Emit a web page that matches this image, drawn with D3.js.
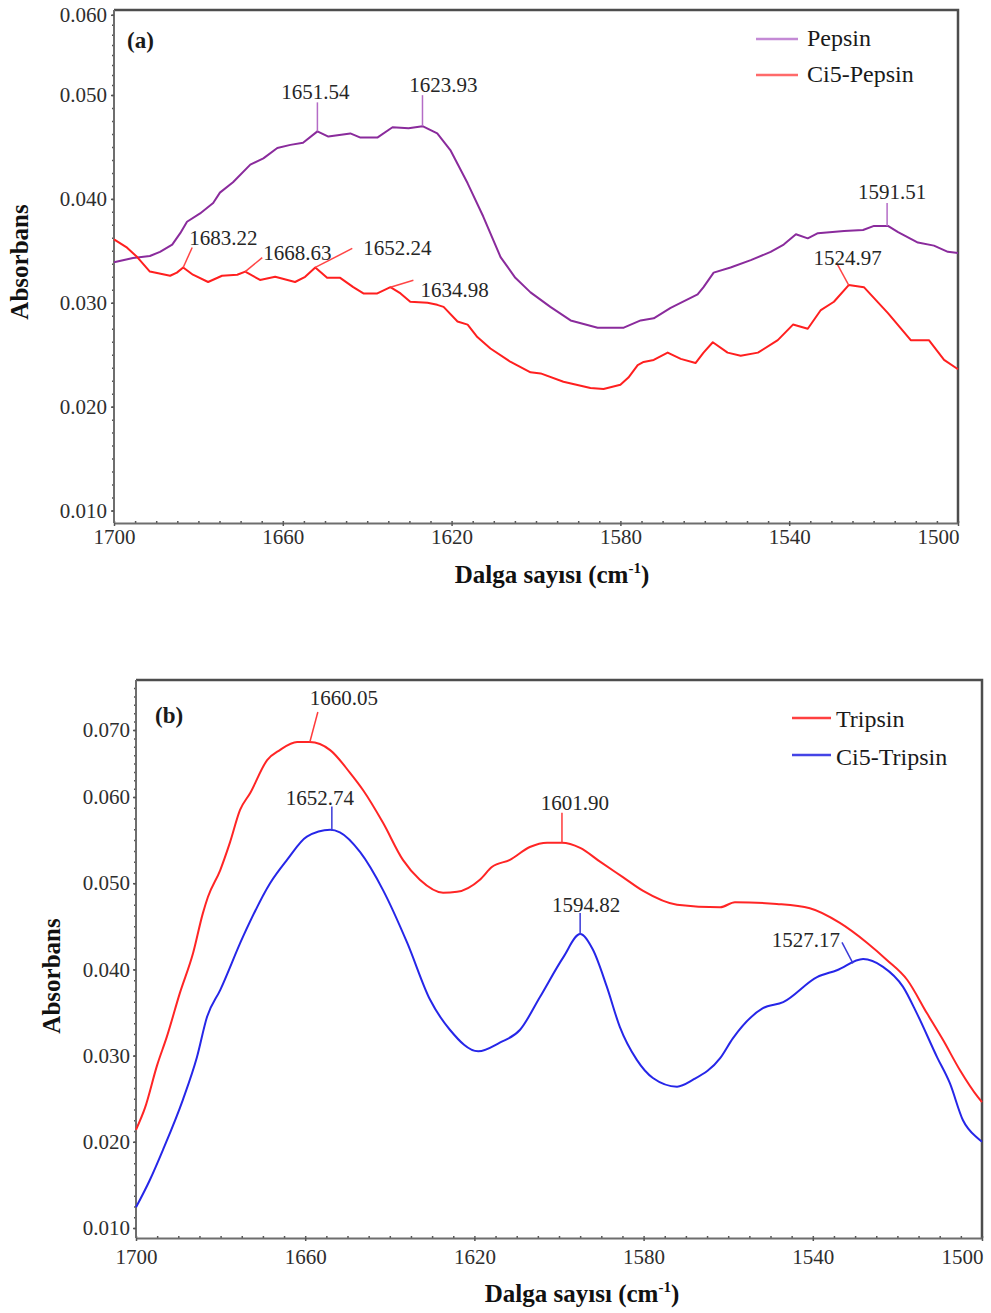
<!DOCTYPE html>
<html><head><meta charset="utf-8">
<script src="https://cdn.jsdelivr.net/npm/d3@7/dist/d3.min.js"></script>
<style>body{margin:0;background:#fff}svg{display:block}</style>
</head><body>
<svg id="chart" width="991" height="1313"></svg>
<script>
// ---------- DATA ----------
const xTicks = [1700, 1660, 1620, 1580, 1540, 1500];
const yTicksA = [0.010, 0.020, 0.030, 0.040, 0.050, 0.060];
const yTicksB = [0.010, 0.020, 0.030, 0.040, 0.050, 0.060, 0.070];

const seriesNamesA = ["Pepsin", "Ci5-Pepsin"];
const seriesNamesB = ["Tripsin", "Ci5-Tripsin"];

const pepsinWave = [1700,1695.5,1691.5,1689.1,1686.2,1684.3,1682.7,1679.6,1676.5,1674.9,1671.8,1667.7,1664.6,1661.3,1658.2,1655.2,1651.8,1649.2,1644.0,1641.6,1637.6,1634.0,1630.2,1626.9,1623.4,1620.3,1616.2,1612.5,1608.4,1604.9,1601.3,1596.6,1591.8,1585.4,1579.2,1575.2,1572.1,1568.1,1561.7,1560.3,1557.9,1553.9,1549.1,1544.4,1541.3,1538.4,1535.6,1533.2,1527.0,1522.5,1519.9,1516.6,1514.2,1509.5,1505.7,1502.4,1500];
const pepsinAbs = [0.0339,0.0343,0.0345,0.0349,0.0356,0.0367,0.0378,0.0386,0.0396,0.0406,0.0416,0.0433,0.0439,0.0449,0.0452,0.0454,0.0465,0.0460,0.0463,0.0459,0.0459,0.0469,0.0468,0.0470,0.0463,0.0447,0.0415,0.0383,0.0344,0.0324,0.0310,0.0296,0.0283,0.0276,0.0276,0.0283,0.0285,0.0295,0.0308,0.0315,0.0329,0.0334,0.0341,0.0349,0.0356,0.0366,0.0362,0.0367,0.0369,0.0370,0.0374,0.0374,0.0368,0.0358,0.0355,0.0349,0.0348];

const ci5PepsinWave = [1700,1696.9,1694.5,1691.5,1686.7,1685.1,1683.6,1681.3,1677.7,1674.4,1670.8,1668.9,1665.4,1661.8,1657.1,1654.7,1652.3,1649.5,1646.4,1643.3,1640.9,1637.6,1634.5,1632.1,1629.8,1625.7,1623.4,1621.9,1618.6,1616.2,1613.9,1610.8,1606.0,1601.3,1598.9,1593.5,1587.1,1584.0,1580.0,1578.1,1575.9,1574.5,1572.1,1568.8,1565.7,1562.2,1560.3,1558.1,1554.6,1551.5,1547.4,1542.7,1539.1,1535.6,1532.5,1529.4,1525.9,1522.3,1516.6,1511.2,1506.9,1503.3,1500];
const ci5PepsinAbs = [0.0361,0.0353,0.0344,0.0330,0.0326,0.0329,0.0334,0.0327,0.0320,0.0326,0.0327,0.0330,0.0322,0.0325,0.0320,0.0325,0.0334,0.0324,0.0324,0.0315,0.0309,0.0309,0.0315,0.0309,0.0301,0.0300,0.0298,0.0296,0.0282,0.0279,0.0267,0.0256,0.0243,0.0233,0.0232,0.0224,0.0218,0.0217,0.0221,0.0228,0.0240,0.0243,0.0245,0.0252,0.0246,0.0242,0.0252,0.0262,0.0252,0.0249,0.0252,0.0264,0.0279,0.0275,0.0293,0.0301,0.0317,0.0315,0.0290,0.0264,0.0264,0.0245,0.0236];

const tripsinWave = [1700,1697.9,1695.0,1692.7,1689.6,1686.5,1684.2,1683.0,1680.1,1677.8,1675.4,1673.0,1669.0,1666.0,1661.9,1658.9,1654.1,1649.4,1646.3,1641.6,1636.9,1632.9,1627.4,1624.1,1618.7,1615.8,1611.6,1606.9,1602.8,1599.3,1595.0,1590.3,1584.9,1580.1,1572.1,1561.9,1558.4,1548.5,1540.7,1533.6,1527.2,1522.5,1517.7,1513.0,1509.2,1505.2,1501.0,1500];
const tripsinAbs = [0.0214,0.0239,0.0289,0.0322,0.0373,0.0419,0.0465,0.0484,0.0515,0.0547,0.0585,0.0606,0.0655,0.0670,0.0682,0.0682,0.0670,0.0636,0.0610,0.0570,0.0527,0.0504,0.0489,0.0490,0.0504,0.0519,0.0527,0.0542,0.0547,0.0547,0.0541,0.0525,0.0507,0.0491,0.0475,0.0472,0.0478,0.0476,0.0471,0.0454,0.0431,0.0411,0.0388,0.0349,0.0318,0.0283,0.0252,0.0246];

const ci5TripsinWave = [1700,1696.7,1693.6,1688.9,1685.6,1683.2,1680.1,1674.7,1668.3,1664.3,1659.6,1654.1,1651.8,1647.0,1641.6,1635.9,1630.5,1625.8,1619.1,1614.0,1609.2,1604.5,1599.0,1595.0,1592.0,1588.7,1585.6,1581.6,1577.8,1572.1,1568.3,1561.9,1558.9,1551.8,1547.0,1539.0,1534.3,1528.1,1523.4,1518.7,1515.4,1510.6,1507.6,1504.5,1501.0,1500];
const ci5TripsinAbs = [0.0124,0.0156,0.0191,0.0249,0.0298,0.0345,0.0376,0.0438,0.0500,0.0527,0.0554,0.0562,0.0559,0.0536,0.0492,0.0431,0.0365,0.0330,0.0305,0.0315,0.0330,0.0368,0.0414,0.0441,0.0423,0.0380,0.0333,0.0295,0.0274,0.0264,0.0272,0.0297,0.0320,0.0355,0.0362,0.0391,0.0399,0.0412,0.0403,0.0380,0.0349,0.0298,0.0268,0.0225,0.0204,0.0200];

// peak markers (anchor on the curve) and their printed labels
const pepsinPeakWave = [1651.8, 1626.9, 1516.8];
const pepsinPeakAbs = [0.0465, 0.0470, 0.0374];
const pepsinPeakLabel = ["1651.54", "1623.93", "1591.51"];
const ci5PepsinPeakWave = [1683.6, 1668.9, 1652.3, 1634.5, 1525.9];
const ci5PepsinPeakAbs = [0.0334, 0.0330, 0.0334, 0.0315, 0.0317];
const ci5PepsinPeakLabel = ["1683.22", "1668.63", "1652.24", "1634.98", "1524.97"];
const tripsinPeakWave = [1658.9, 1599.3];
const tripsinPeakAbs = [0.0682, 0.0547];
const tripsinPeakLabel = ["1660.05", "1601.90"];
const ci5TripsinPeakWave = [1653.7, 1595.0, 1530.5];
const ci5TripsinPeakAbs = [0.0561, 0.0440, 0.0407];
const ci5TripsinPeakLabel = ["1652.74", "1594.82", "1527.17"];

// ---------- LAYOUT / STYLE ----------
// leader: [lineDx, lineDy, textDx, textDy, anchor]
const panels = [
  {
    tag: "(a)", tagPos: [127, 48],
    xRange: [114, 958],
    yDomain: [0.0088, 0.050, 0.0606], yRange: [523, 95, 10],
    yTicks: yTicksA, xPad: 3, yPad: 4,
    yTitlePos: [28, 262], xTitlePos: [552, 583],
    curve: d3.curveLinear,
    legend: {lineX: [756, 798], textX: 807, rows: [[39, 46], [75, 82]]},
    series: [
      {name: seriesNamesA[0], wave: pepsinWave, abs: pepsinAbs, color: "#8a2b9c", legendColor: "#c48ad5",
       peaks: {wave: pepsinPeakWave, abs: pepsinPeakAbs, label: pepsinPeakLabel, color: "#b46cc6",
         leader: [[0,-29,-2,-32,"middle"],[0,-31,21,-34,"middle"],[0,-23,5,-27,"middle"]]}},
      {name: seriesNamesA[1], wave: ci5PepsinWave, abs: ci5PepsinAbs, color: "#ff1f1f", legendColor: "#ff6a6a",
       peaks: {wave: ci5PepsinPeakWave, abs: ci5PepsinPeakAbs, label: ci5PepsinPeakLabel, color: "#ff4545",
         leader: [[9,-20,6,-22,"start"],[17,-14,18,-12,"start"],[37,-19,48,-12,"start"],[23,-7,30,10,"start"],[-12,-22,-1,-20,"middle"]]}}
    ]
  },
  {
    tag: "(b)", tagPos: [155, 723],
    xRange: [136, 982],
    yDomain: [0.00884, 0.060, 0.070, 0.07746], yRange: [1238, 797, 730, 680],
    yTicks: yTicksB, xPad: 8, yPad: 3,
    yTitlePos: [60, 976], xTitlePos: [582, 1302],
    curve: d3.curveMonotoneX,
    legend: {lineX: [792, 831], textX: 836, rows: [[718, 727], [755, 765]]},
    series: [
      {name: seriesNamesB[0], wave: tripsinWave, abs: tripsinAbs, color: "#ff2525", legendColor: "#ff4040",
       peaks: {wave: tripsinPeakWave, abs: tripsinPeakAbs, label: tripsinPeakLabel, color: "#ff3a3a",
         leader: [[8,-30,34,-37,"middle"],[0,-30,13,-33,"middle"]]}},
      {name: seriesNamesB[1], wave: ci5TripsinWave, abs: ci5TripsinAbs, color: "#2626e8", legendColor: "#4444e6",
       peaks: {wave: ci5TripsinPeakWave, abs: ci5TripsinPeakAbs, label: ci5TripsinPeakLabel, color: "#3a3ad8",
         leader: [[0,-24,-12,-26,"middle"],[0,-22,6,-23,"middle"],[-11,-21,-13,-16,"end"]]}}
    ]
  }
];

const SERIF = "'Liberation Serif','Times New Roman',serif";
const svg = d3.select("#chart");

panels.forEach(p => {
  const x = d3.scaleLinear().domain([1700, 1500]).range(p.xRange);
  const y = d3.scaleLinear().domain(p.yDomain).range(p.yRange);
  const [x0, x1] = p.xRange;
  const yb = p.yRange[0], yt = p.yRange[p.yRange.length - 1];
  const g = svg.append("g");

  // frame (top and right)
  g.append("path").attr("d", `M${x0},${yt}H${x1}V${yb}`)
    .attr("fill", "none").attr("stroke", "#4d4d4d").attr("stroke-width", 2.5);

  // minor ticks
  const yMin = p.yDomain[0], yMax = p.yDomain[p.yDomain.length - 1];
  const minorY = d3.range(0, 81).map(k => k * 0.00125).filter(v => v > yMin && v < yMax);
  const minorX = d3.range(1500, 1701, 5);
  g.append("g").attr("transform", `translate(${x0},0)`)
    .call(d3.axisLeft(y).tickValues(minorY).tickSize(2).tickFormat(""))
    .call(s => s.select(".domain").remove())
    .selectAll("line").attr("stroke", "#555").attr("stroke-width", 1.5);
  g.append("g").attr("transform", `translate(0,${yb})`)
    .call(d3.axisTop(x).tickValues(minorX).tickSize(2).tickFormat(""))
    .call(s => s.select(".domain").remove())
    .selectAll("line").attr("stroke", "#555").attr("stroke-width", 1.5);

  // major axes
  const ya = g.append("g").attr("transform", `translate(${x0},0)`)
    .call(d3.axisLeft(y).tickValues(p.yTicks).tickFormat(d3.format(".3f")).tickSize(3).tickPadding(p.yPad).tickSizeOuter(0));
  const xa = g.append("g").attr("transform", `translate(0,${yb})`)
    .call(d3.axisBottom(x).tickValues(xTicks).tickFormat(d3.format("d")).tickSize(3).tickPadding(p.xPad).tickSizeOuter(0));
  [ya, xa].forEach(a => {
    a.select(".domain").attr("stroke", "#6e6e6e").attr("stroke-width", 2);
    a.selectAll(".tick line").attr("stroke", "#555").attr("stroke-width", 1.5);
    a.selectAll("text").attr("font-family", SERIF).attr("font-size", 21).attr("fill", "#2e2e2e");
  });
  // last x label sits left of the frame corner, as in the original
  xa.selectAll(".tick text").filter(d => d === 1500).attr("text-anchor", "end").attr("x", 1);
  ya.select(".domain").attr("d", `M0,${yb}V${yt}`);

  // series
  const line = d3.line().x(d => x(d[0])).y(d => y(d[1])).curve(p.curve);
  p.series.forEach(s => {
    g.append("path").datum(d3.zip(s.wave, s.abs))
      .attr("d", line).attr("fill", "none")
      .attr("stroke", s.color).attr("stroke-width", 2).attr("stroke-linejoin", "round");
  });

  // peak annotations
  p.series.forEach(s => {
    const pk = s.peaks;
    pk.wave.forEach((w, i) => {
      const ax = x(w), ay = y(pk.abs[i]);
      const [ldx, ldy, tdx, tdy, anchor] = pk.leader[i];
      g.append("line").attr("x1", ax).attr("y1", ay).attr("x2", ax + ldx).attr("y2", ay + ldy)
        .attr("stroke", pk.color).attr("stroke-width", 1.5);
      g.append("text").attr("x", ax + tdx).attr("y", ay + tdy).attr("text-anchor", anchor)
        .attr("font-family", SERIF).attr("font-size", 21).attr("fill", "#262626").text(pk.label[i]);
    });
  });

  // legend
  p.series.forEach((s, i) => {
    const [ly, ty] = p.legend.rows[i];
    g.append("line").attr("x1", p.legend.lineX[0]).attr("x2", p.legend.lineX[1]).attr("y1", ly).attr("y2", ly)
      .attr("stroke", s.legendColor).attr("stroke-width", 2.5);
    g.append("text").attr("x", p.legend.textX).attr("y", ty).attr("font-family", SERIF)
      .attr("font-size", 24).attr("fill", "#1a1a1a").text(s.name);
  });

  // panel tag
  g.append("text").attr("x", p.tagPos[0]).attr("y", p.tagPos[1]).attr("font-family", SERIF)
    .attr("font-weight", "bold").attr("font-size", 23).attr("fill", "#1a1a1a").text(p.tag);

  // axis titles
  g.append("text").attr("transform", `translate(${p.yTitlePos[0]},${p.yTitlePos[1]}) rotate(-90)`)
    .attr("text-anchor", "middle").attr("font-family", SERIF).attr("font-weight", "bold")
    .attr("font-size", 25).attr("fill", "#111").text("Absorbans");
  const xt = g.append("text").attr("x", p.xTitlePos[0]).attr("y", p.xTitlePos[1])
    .attr("text-anchor", "middle").attr("font-family", SERIF).attr("font-weight", "bold")
    .attr("font-size", 25).attr("fill", "#111");
  xt.append("tspan").text("Dalga sayısı (cm");
  xt.append("tspan").attr("font-size", 15).attr("dy", -10).text("-1");
  xt.append("tspan").attr("dy", 10).text(")");
});
</script>
</body></html>
